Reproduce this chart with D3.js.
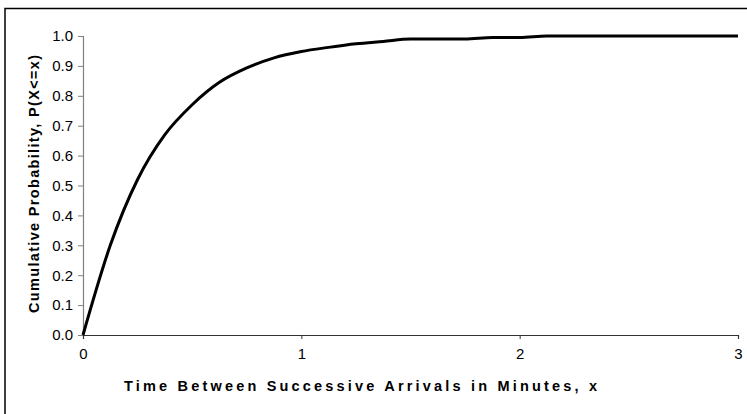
<!DOCTYPE html>
<html>
<head>
<meta charset="utf-8">
<script src="https://cdn.jsdelivr.net/npm/d3@7"></script>
<style>
  html, body { margin: 0; padding: 0; background: #fff; }
  svg { display: block; }
  text { font-family: "Liberation Sans", Arial, sans-serif; fill: #000; }
</style>
</head>
<body>
<script>
// Data
const xValues = [0, 0.125, 0.25, 0.375, 0.5, 0.625, 0.75, 0.875, 1.0, 1.125, 1.25, 1.375, 1.5,
                 1.625, 1.75, 1.875, 2.0, 2.125, 2.25, 2.375, 2.5, 2.625, 2.75, 2.875, 3.0];
const yValues = [0.00, 0.30, 0.52, 0.67, 0.77, 0.845, 0.893, 0.927, 0.948, 0.962, 0.974, 0.982, 0.99,
                 0.99, 0.99, 0.995, 0.995, 1.00, 1.00, 1.00, 1.00, 1.00, 1.00, 1.00, 1.00];
const xTicks = [0, 1, 2, 3];
const yTicks = [0, 0.1, 0.2, 0.3, 0.4, 0.5, 0.6, 0.7, 0.8, 0.9, 1.0];
const xTitle = "Time Between Successive Arrivals in Minutes, x";
const yTitle = "Cumulative Probability, P(X<=x)";

(function () {
const W = 747, H = 414;
const svg = d3.select("body").append("svg").attr("width", W).attr("height", H);

// outer chart border (only top/left visible in the frame)
svg.append("rect").attr("x", 5).attr("y", 8.5).attr("width", 760).attr("height", 430)
  .attr("fill", "none").attr("stroke", "#000").attr("stroke-width", 1.5);

const mLeft = 83, mRight = 738, mTop = 36, mBottom = 335;
const x = d3.scaleLinear().domain([0, 3]).range([mLeft, mRight]);
const y = d3.scaleLinear().domain([0, 1]).range([mBottom, mTop]);

const fontFam = "'Liberation Sans', Arial, sans-serif";
const tickFs = 15;

// Y axis
const yAxis = svg.append("g").attr("transform", `translate(${mLeft},0)`)
  .call(d3.axisLeft(y).tickValues(yTicks).tickFormat(d3.format(".1f")).tickSize(5).tickPadding(5));
yAxis.attr("font-size", tickFs).attr("font-family", fontFam);
yAxis.select(".domain").attr("stroke", "#808080").attr("stroke-width", 1.2);
yAxis.selectAll(".tick line").attr("stroke", "#808080");
yAxis.selectAll(".tick text").attr("font-size", tickFs).attr("fill", "#000");

// X axis
const xAxis = svg.append("g").attr("transform", `translate(0,${mBottom})`)
  .call(d3.axisBottom(x).tickValues(xTicks).tickFormat(d3.format("d")).tickSize(4).tickPadding(9));
xAxis.attr("font-size", tickFs).attr("font-family", fontFam);
xAxis.select(".domain").attr("stroke", "#333").attr("stroke-width", 1.2);
xAxis.selectAll(".tick line").attr("stroke", "#333");
xAxis.selectAll(".tick text").attr("font-size", tickFs).attr("fill", "#000");

// Curve
const data = xValues.map((v, i) => [v, yValues[i]]);
svg.append("path").datum(data)
  .attr("fill", "none").attr("stroke", "#000").attr("stroke-width", 3)
  .attr("stroke-linejoin", "round")
  .attr("d", d3.line().curve(d3.curveMonotoneX).x(d => x(d[0])).y(d => y(d[1])));

// Titles
svg.append("text").attr("x", 360.5).attr("y", 391).attr("text-anchor", "middle")
  .attr("font-size", 14.5).attr("font-weight", "bold")
  .attr("textLength", 473).attr("lengthAdjust", "spacing")
  .text(xTitle);

svg.append("text").attr("transform", "translate(39,184) rotate(-90)")
  .attr("text-anchor", "middle")
  .attr("font-size", 14.5).attr("font-weight", "bold")
  .attr("textLength", 258).attr("lengthAdjust", "spacing")
  .text(yTitle);
})();
</script>
</body>
</html>
